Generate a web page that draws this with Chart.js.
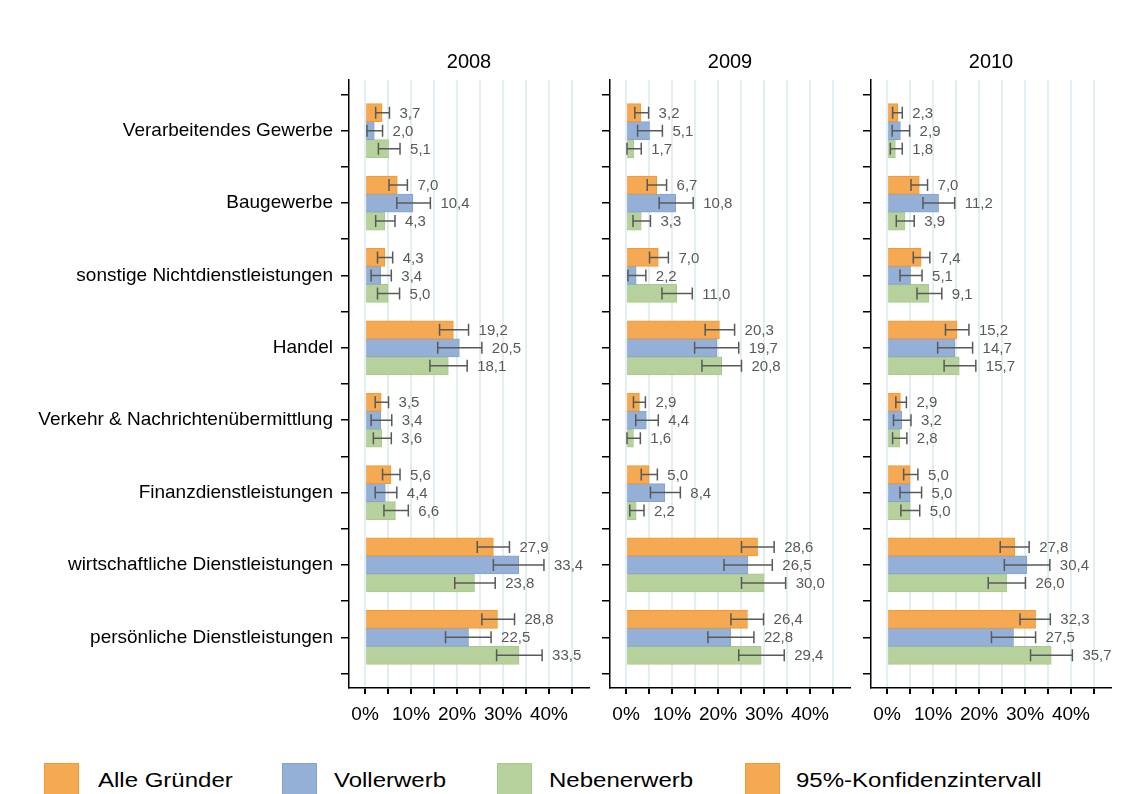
<!DOCTYPE html>
<html>
<head>
<meta charset="utf-8">
<script src="https://cdn.jsdelivr.net/npm/chart.js@4"></script>
<style>
  body { margin: 0; background: #fff; font-family: "Liberation Sans", Arial, sans-serif; }
  #wrap { position: relative; width: 1143px; height: 794px; overflow: hidden; }
  canvas { position: absolute; top: 0; }
  .box { position: absolute; top: 763px; width: 35px; height: 40px; box-sizing: border-box; border: 1px solid; }
  .lbl { position: absolute; top: 770px; font-size: 20px; line-height: 20px; color: #000;
         transform: scaleX(1.2); transform-origin: left center; white-space: nowrap; }
</style>
</head>
<body>
<div id="wrap">
  <canvas id="c2008" width="600" height="740" style="left:0px"></canvas>
  <canvas id="c2009" width="261" height="740" style="left:600px"></canvas>
  <canvas id="c2010" width="261" height="740" style="left:861px"></canvas>

  <div class="box" style="left:44px;background:#F4A952;border-color:#F29A30"></div>
  <div class="lbl" style="left:98px">Alle Gründer</div>
  <div class="box" style="left:282px;background:#95B0D7;border-color:#86A3CF"></div>
  <div class="lbl" style="left:334px">Vollerwerb</div>
  <div class="box" style="left:497px;background:#B6D19C;border-color:#A8C98C"></div>
  <div class="lbl" style="left:549px">Nebenerwerb</div>
  <div class="box" style="left:745px;background:#F4A952;border-color:#F29A30"></div>
  <div class="lbl" style="left:796px">95%-Konfidenzintervall</div>
</div>

<script>
// Categories (top to bottom)
const categories = [
    'Verarbeitendes Gewerbe',
    'Baugewerbe',
    'sonstige Nichtdienstleistungen',
    'Handel',
    'Verkehr & Nachrichtenübermittlung',
    'Finanzdienstleistungen',
    'wirtschaftliche Dienstleistungen',
    'persönliche Dienstleistungen'
];
const years = ['2008', '2009', '2010'];
const seriesNames = ['Alle Gründer', 'Vollerwerb', 'Nebenerwerb'];

// Shares in percent
const alle2008 = [3.7, 7.0, 4.3, 19.2, 3.5, 5.6, 27.9, 28.8];
const voll2008 = [2.0, 10.4, 3.4, 20.5, 3.4, 4.4, 33.4, 22.5];
const neben2008 = [5.1, 4.3, 5.0, 18.1, 3.6, 6.6, 23.8, 33.5];
const alle2009 = [3.2, 6.7, 7.0, 20.3, 2.9, 5.0, 28.6, 26.4];
const voll2009 = [5.1, 10.8, 2.2, 19.7, 4.4, 8.4, 26.5, 22.8];
const neben2009 = [1.7, 3.3, 11.0, 20.8, 1.6, 2.2, 30.0, 29.4];
const alle2010 = [2.3, 7.0, 7.4, 15.2, 2.9, 5.0, 27.8, 32.3];
const voll2010 = [2.9, 11.2, 5.1, 14.7, 3.2, 5.0, 30.4, 27.5];
const neben2010 = [1.8, 3.9, 9.1, 15.7, 2.8, 5.0, 26.0, 35.7];

// 95% confidence intervals (lower / upper bound)
const alle2008Low = [2.3, 5.2, 2.7, 16.2, 2.2, 3.8, 24.4, 25.4];
const alle2008High = [5.3, 9.2, 6.0, 22.5, 5.1, 7.6, 31.4, 32.5];
const voll2008Low = [0.4, 6.9, 1.3, 15.8, 1.3, 2.2, 27.9, 17.5];
const voll2008High = [3.8, 14.2, 5.7, 25.4, 5.8, 6.9, 38.9, 27.4];
const neben2008Low = [2.9, 2.3, 2.7, 14.1, 1.8, 4.1, 19.5, 28.6];
const neben2008High = [7.6, 6.5, 7.5, 22.2, 5.7, 9.4, 28.3, 38.5];
const alle2009Low = [1.9, 4.6, 5.1, 17.2, 1.6, 3.3, 25.1, 22.8];
const alle2009High = [4.9, 8.8, 9.2, 23.6, 4.2, 6.8, 32.2, 29.9];
const voll2009Low = [2.5, 7.2, 0.4, 14.9, 2.1, 5.3, 21.3, 17.8];
const voll2009High = [7.9, 14.6, 4.3, 24.5, 7.0, 11.8, 31.8, 27.8];
const neben2009Low = [0.2, 1.5, 7.8, 16.5, 0.2, 0.8, 25.1, 24.5];
const neben2009High = [3.3, 5.3, 14.4, 25.1, 3.1, 3.9, 34.7, 34.4];
const alle2010Low = [1.2, 5.2, 5.7, 12.7, 1.9, 3.6, 24.6, 28.9];
const alle2010High = [3.3, 8.8, 9.3, 17.8, 4.2, 6.7, 30.9, 35.5];
const voll2010Low = [1.1, 7.8, 2.8, 11.0, 1.4, 2.8, 25.5, 22.7];
const voll2010High = [4.9, 14.7, 7.6, 18.6, 5.2, 7.5, 35.4, 32.3];
const neben2010Low = [0.7, 2.0, 6.5, 12.4, 1.2, 3.0, 22.0, 31.2];
const neben2010High = [3.3, 5.9, 11.9, 19.3, 4.3, 7.1, 30.1, 40.3];

// x-axis ticks
const xTicks = [0, 5, 10, 15, 20, 25, 30, 35, 40, 45];
const xTickLabels = ['0%', '', '10%', '', '20%', '', '30%', '', '40%', ''];

const fills = ['#F4A952', '#95B0D7', '#B6D19C'];
const borders = ['#F29A30', '#86A3CF', '#A8C98C'];
const FONT = '"Liberation Sans", Arial, sans-serif';

// draws error bars and value labels next to each bar
const errorBars = {
    id: 'errorBars',
    afterDatasetsDraw(chart) {
        const ctx = chart.ctx;
        const x = chart.scales.x;
        ctx.save();
        chart.data.datasets.forEach((ds, di) => {
            chart.getDatasetMeta(di).data.forEach((bar, i) => {
                const lo = x.getPixelForValue(ds.errLow[i]);
                const hi = x.getPixelForValue(ds.errHigh[i]);
                const y = bar.y;
                ctx.strokeStyle = '#595959';
                ctx.lineWidth = 1.5;
                ctx.beginPath();
                ctx.moveTo(lo, y); ctx.lineTo(hi, y);
                ctx.moveTo(lo, y - 6); ctx.lineTo(lo, y + 6);
                ctx.moveTo(hi, y - 6); ctx.lineTo(hi, y + 6);
                ctx.stroke();
                ctx.fillStyle = '#595959';
                ctx.font = '15px ' + FONT;
                ctx.textAlign = 'left';
                ctx.textBaseline = 'middle';
                ctx.fillText(ds.data[i].x.toFixed(1).replace('.', ','), hi + 10, y + 1);
            });
        });
        ctx.restore();
    }
};

// year title centred over the plot area
const panelTitle = {
    id: 'panelTitle',
    afterDraw(chart, args, opts) {
        const ctx = chart.ctx;
        const a = chart.chartArea;
        ctx.save();
        ctx.fillStyle = '#000';
        ctx.font = '20px ' + FONT;
        ctx.textAlign = 'center';
        ctx.textBaseline = 'middle';
        ctx.fillText(opts.text, (a.left + a.right) / 2, 62);
        ctx.restore();
    }
};

function createPanel(canvasId, year, values, lows, highs, showLabels, yWidth) {
    const ctx = document.getElementById(canvasId).getContext('2d');
    new Chart(ctx, {
        type: 'bar',
        data: {
            datasets: values.map((vals, s) => ({
                label: seriesNames[s],
                data: vals.map((v, i) => ({ x: v, y: i })),
                errLow: lows[s],
                errHigh: highs[s],
                backgroundColor: fills[s],
                borderColor: borders[s],
                borderWidth: 1,
                barThickness: 18
            }))
        },
        options: {
            indexAxis: 'y',
            responsive: false,
            animation: false,
            layout: { padding: { top: 80, right: 11, left: 0, bottom: 0 } },
            scales: {
                y: {
                    type: 'linear',
                    reverse: true,
                    offset: false,
                    min: -0.7,
                    max: 7.7,
                    afterBuildTicks: s => {
                        const t = [];
                        for (let v = -0.5; v <= 7.5; v += 0.5) t.push({ value: v });
                        s.ticks = t;
                    },
                    afterFit: s => { s.width = yWidth; },
                    ticks: {
                        color: '#000',
                        font: { family: FONT, size: 19 },
                        padding: 8,
                        autoSkip: false,
                        callback: v => (showLabels && Number.isInteger(v)) ? categories[v] : ''
                    },
                    grid: { offset: false, drawOnChartArea: false, drawTicks: true, tickLength: 8, tickColor: '#000', lineWidth: 1.5 },
                    border: { display: true, color: '#000', width: 1.5 }
                },
                x: {
                    type: 'linear',
                    min: -3.5,
                    max: 48.7,
                    afterBuildTicks: s => { s.ticks = xTicks.map(v => ({ value: v })); },
                    afterFit: s => { s.height = 52; },
                    ticks: {
                        color: '#000',
                        font: { family: FONT, size: 19 },
                        padding: 9,
                        autoSkip: false,
                        maxRotation: 0,
                        callback: (v, i) => xTickLabels[i]
                    },
                    grid: { color: '#E2EEF2', lineWidth: 2, drawTicks: true, tickLength: 6, tickColor: '#000' },
                    border: { display: true, color: '#000', width: 1.5 }
                }
            },
            plugins: {
                legend: { display: false },
                tooltip: { enabled: false },
                panelTitle: { text: year }
            }
        },
        plugins: [errorBars, panelTitle]
    });
}

createPanel('c2008', years[0], [alle2008, voll2008, neben2008],
    [alle2008Low, voll2008Low, neben2008Low], [alle2008High, voll2008High, neben2008High], true, 349);
createPanel('c2009', years[1], [alle2009, voll2009, neben2009],
    [alle2009Low, voll2009Low, neben2009Low], [alle2009High, voll2009High, neben2009High], false, 10);
createPanel('c2010', years[2], [alle2010, voll2010, neben2010],
    [alle2010Low, voll2010Low, neben2010Low], [alle2010High, voll2010High, neben2010High], false, 10);
</script>
</body>
</html>
